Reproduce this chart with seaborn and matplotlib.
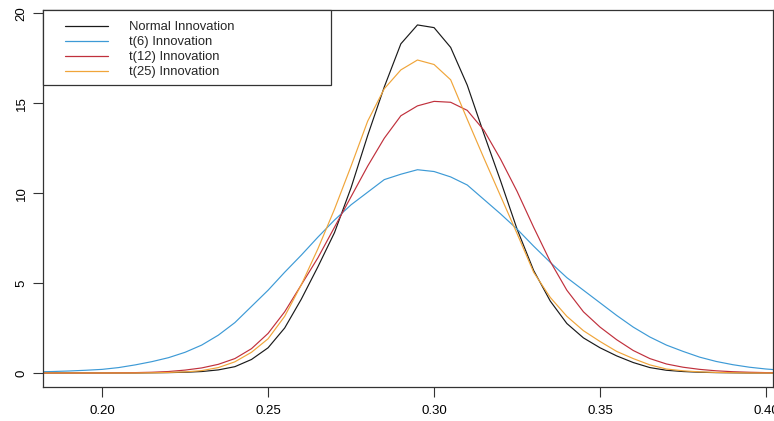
import matplotlib
matplotlib.use("Agg")
import matplotlib.pyplot as plt
import seaborn as sns
import pandas as pd
from matplotlib.patches import Rectangle

# ---- data ----
x_grid = [0.180, 0.185, 0.190, 0.195, 0.200, 0.205, 0.210, 0.215, 0.220, 0.225,
          0.230, 0.235, 0.240, 0.245, 0.250, 0.255, 0.260, 0.265, 0.270, 0.275,
          0.280, 0.285, 0.290, 0.295, 0.300, 0.305, 0.310, 0.315, 0.320, 0.325,
          0.330, 0.335, 0.340, 0.345, 0.350, 0.355, 0.360, 0.365, 0.370, 0.375,
          0.380, 0.385, 0.390, 0.395, 0.400, 0.405, 0.410]

normal_vals = [0.00, 0.00, 0.00, 0.00, 0.00, 0.00, 0.00, 0.01, 0.02, 0.04,
               0.08, 0.17, 0.35, 0.75, 1.40, 2.50, 4.10, 5.90, 7.80, 10.30,
               13.20, 15.90, 18.30, 19.35, 19.20, 18.10, 16.00, 13.30, 10.70, 8.00,
               5.70, 4.00, 2.75, 1.95, 1.40, 0.95, 0.58, 0.30, 0.15, 0.08,
               0.04, 0.02, 0.01, 0.00, 0.00, 0.00, 0.00]

t6_vals = [0.06, 0.08, 0.11, 0.15, 0.20, 0.30, 0.45, 0.63, 0.85, 1.15,
           1.55, 2.10, 2.80, 3.70, 4.60, 5.60, 6.55, 7.55, 8.50, 9.35,
           10.05, 10.75, 11.05, 11.30, 11.20, 10.90, 10.45, 9.65, 8.85, 8.00,
           7.05, 6.15, 5.30, 4.60, 3.90, 3.20, 2.55, 2.00, 1.55, 1.20,
           0.88, 0.64, 0.46, 0.32, 0.22, 0.15, 0.10]

t12_vals = [0.00, 0.00, 0.00, 0.00, 0.00, 0.01, 0.02, 0.04, 0.08, 0.16,
            0.28, 0.48, 0.80, 1.35, 2.20, 3.40, 4.90, 6.40, 8.10, 9.80,
            11.50, 13.05, 14.30, 14.85, 15.10, 15.05, 14.60, 13.50, 11.90, 10.10,
            8.10, 6.20, 4.60, 3.40, 2.55, 1.85, 1.25, 0.80, 0.50, 0.32,
            0.20, 0.12, 0.07, 0.04, 0.02, 0.01, 0.00]

t25_vals = [0.00, 0.00, 0.00, 0.00, 0.00, 0.00, 0.00, 0.01, 0.03, 0.06,
            0.13, 0.30, 0.62, 1.15, 1.90, 3.15, 4.90, 6.90, 9.10, 11.50,
            14.00, 15.80, 16.85, 17.40, 17.15, 16.30, 14.10, 11.95, 9.85, 7.75,
            5.60, 4.20, 3.15, 2.35, 1.75, 1.20, 0.80, 0.45, 0.22, 0.12,
            0.06, 0.03, 0.015, 0.00, 0.00, 0.00, 0.00]

series_names = ["Normal Innovation", "t(6) Innovation", "t(12) Innovation", "t(25) Innovation"]
series_colors = ["#1a1a1a", "#3d9ad6", "#c0303c", "#f0a53a"]
x_ticks = [0.20, 0.25, 0.30, 0.35, 0.40]
x_tick_labels = ["0.20", "0.25", "0.30", "0.35", "0.40"]
y_ticks = [0, 5, 10, 15, 20]
y_tick_labels = ["0", "5", "10", "15", "20"]

frames = []
for name, vals in zip(series_names, [normal_vals, t6_vals, t12_vals, t25_vals]):
    frames.append(pd.DataFrame({"x": x_grid, "density": vals, "series": name}))
df = pd.concat(frames, ignore_index=True)

# ---- figure ----
sns.set_theme(style="white")
plt.rcParams["font.family"] = ["Liberation Sans", "DejaVu Sans"]

W, H = 774, 421
fig = plt.figure(figsize=(W / 100, H / 100), dpi=100)
ax_l, ax_r, ax_t, ax_b = 43, 773, 10, 387
ax = fig.add_axes([ax_l / W, 1 - ax_b / H, (ax_r - ax_l) / W, (ax_b - ax_t) / H])

sns.lineplot(data=df, x="x", y="density", hue="series", hue_order=series_names,
             palette=dict(zip(series_names, series_colors)), estimator=None,
             sort=False, linewidth=0.85, ax=ax, legend=True)

ax.set_xlim(0.1822, 0.4021)
ax.set_ylim(-0.78, 20.18)
ax.set_xticks(x_ticks)
ax.set_xticklabels(x_tick_labels)
ax.set_yticks(y_ticks)
ax.set_yticklabels(y_tick_labels, rotation=90, va="center")
ax.set_xlabel("")
ax.set_ylabel("")
ax.tick_params(axis="both", direction="out", length=7, width=0.8, color="#333333",
               labelsize=9.5, labelcolor="black")
ax.tick_params(axis="x", pad=6)
ax.tick_params(axis="y", pad=4)
ax.tick_params(bottom=True, left=True)
for s in ax.spines.values():
    s.set_visible(True)
    s.set_color("#333333")
    s.set_linewidth(0.9)

# legend box (R style, anchored at the top-left corner)
lx1, ly1 = 331, 85
ax.add_patch(Rectangle((0, 1 - (ly1 - ax_t) / (ax_b - ax_t)),
                       (lx1 - ax_l) / (ax_r - ax_l), (ly1 - ax_t) / (ax_b - ax_t),
                       transform=ax.transAxes, facecolor="white",
                       edgecolor="#333333", linewidth=0.9, zorder=5, clip_on=False))
handles, labels = ax.get_legend_handles_labels()
leg = ax.legend(handles, labels, loc="upper left",
                bbox_to_anchor=(65 / W, 1 - 21 / H), bbox_transform=fig.transFigure,
                frameon=False, borderpad=0, borderaxespad=0, fontsize=9.4,
                handlelength=3.3, handletextpad=1.6, labelspacing=0.22)
leg.set_zorder(6)
for line in leg.get_lines():
    line.set_linewidth(0.9)

fig.savefig("out.png", dpi=100)
